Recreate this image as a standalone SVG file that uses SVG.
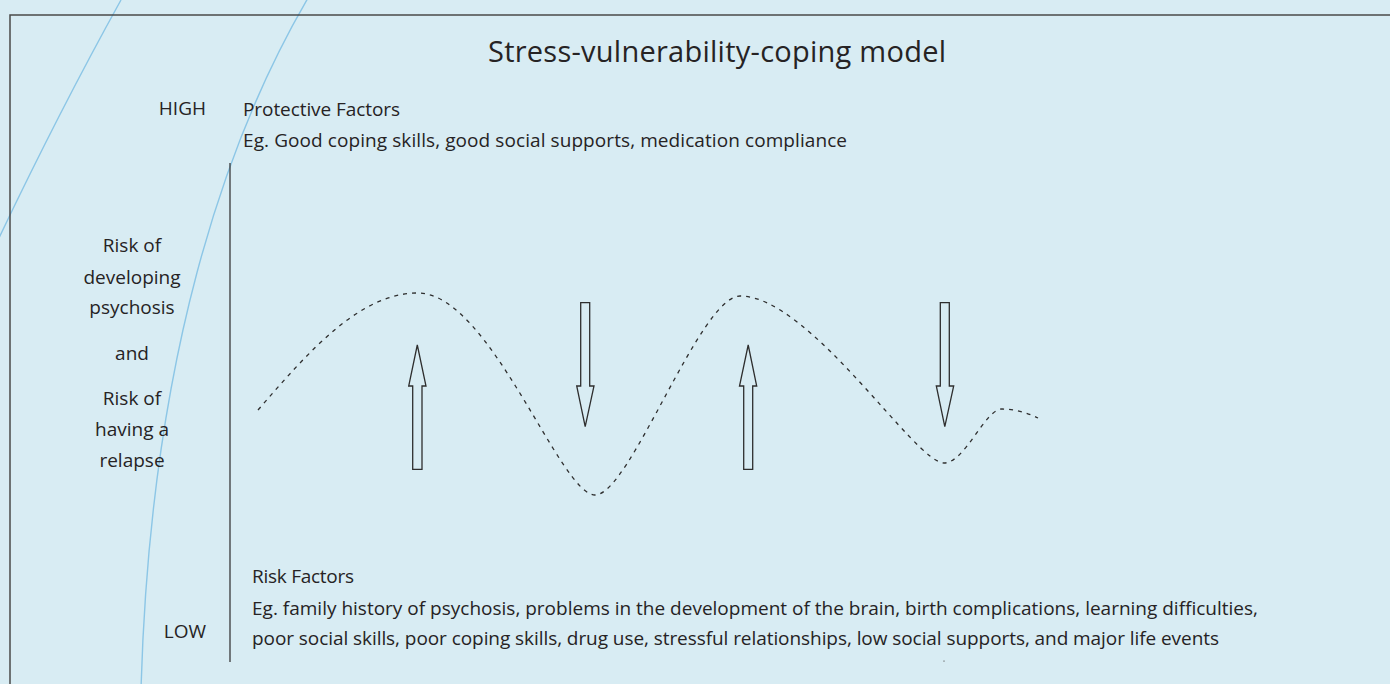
<svg xmlns="http://www.w3.org/2000/svg" width="1390" height="684" viewBox="0 0 1390 684">
  <style>
    .txt { font-family: "Open Sans", "Noto Sans", "Liberation Sans", sans-serif; fill: #262324; }
    .body { font-size: 19px; }
    .title { font-size: 29px; }
    .mid { text-anchor: middle; }
    .end { text-anchor: end; }
    .deco { fill: none; stroke: #8cc6e6; stroke-width: 1.4; }
    .frame { fill: none; stroke: #4a4a4a; stroke-width: 1.5; }
    .axis { fill: none; stroke: #3a3a3a; stroke-width: 1.3; }
    .wave { fill: none; stroke: #2e2e2e; stroke-width: 1.3; stroke-dasharray: 4 5; }
    .arrow { fill: none; stroke: #2e2e2e; stroke-width: 1.3; stroke-linejoin: miter; }
  </style>

  <!-- panel background -->
  <rect x="0" y="0" width="1390" height="684" fill="#d8ecf3"/>

  <!-- decorative sweeping arcs -->
  <g id="backdrop">
    <path class="deco" d="M121,0 Q60,110 -2,240"/>
    <path class="deco" d="M308,-2 C225,140 150,360 141,690"/>
  </g>

  <!-- outer frame and vertical scale -->
  <path class="frame" d="M10,690 V15 H1395"/>
  <g id="scale-axis">
    <line class="axis" x1="230" y1="163" x2="230" y2="662"/>
  </g>

  <!-- title -->
  <g id="title">
    <text class="txt title" x="488" y="62" textLength="458" lengthAdjust="spacing">Stress-vulnerability-coping model</text>
  </g>

  <!-- scale end labels -->
  <g id="label-high">
    <text class="txt body end" x="206" y="115">HIGH</text>
  </g>
  <g id="label-low">
    <text class="txt body end" x="206" y="638">LOW</text>
  </g>

  <!-- vertical axis caption -->
  <g id="axis-caption">
    <text class="txt body mid" x="132" y="252">Risk of</text>
    <text class="txt body mid" x="132" y="284">developing</text>
    <text class="txt body mid" x="132" y="314">psychosis</text>
    <text class="txt body mid" x="132" y="360">and</text>
    <text class="txt body mid" x="132" y="405">Risk of</text>
    <text class="txt body mid" x="132" y="436">having a</text>
    <text class="txt body mid" x="132" y="467">relapse</text>
  </g>

  <!-- protective factors block -->
  <g id="protective-factors">
    <text class="txt body" x="243" y="116" textLength="157" lengthAdjust="spacing">Protective Factors</text>
    <text class="txt body" x="243" y="147" textLength="604" lengthAdjust="spacing">Eg. Good coping skills, good social supports, medication compliance</text>
  </g>

  <!-- risk factors block -->
  <g id="risk-factors">
    <text class="txt body" x="252" y="583" textLength="102" lengthAdjust="spacing">Risk Factors</text>
    <text class="txt body" x="252" y="615" textLength="1006" lengthAdjust="spacing">Eg. family history of psychosis, problems in the development of the brain, birth complications, learning difficulties,</text>
    <text class="txt body" x="252" y="645" textLength="967" lengthAdjust="spacing">poor social skills, poor coping skills, drug use, stressful relationships, low social supports, and major life events</text>
  </g>

  <!-- risk curve and pushing arrows -->
  <g id="connectors">
    <path class="wave" d="M258,410 C310,350 360,293 418,293 C490,293 560,495 595,495 C630,495 700,296 740,296 C810,296 915,463 944,463 C965,463 985,409 1002,409 C1015,409 1028,413 1038,418"/>
    <!-- upward (protective) arrows -->
    <polygon class="arrow" points="417.3,345 426,386 422,386 422,469.3 412.7,469.3 412.7,386 408.7,386"/>
    <polygon class="arrow" points="748.2,345 756.7,386 752.7,386 752.7,469.3 743.7,469.3 743.7,386 739.5,386"/>
    <!-- downward (risk) arrows -->
    <polygon class="arrow" points="580.7,302.7 589.7,302.7 589.7,386 594,386 585.2,426.7 576.7,386 580.7,386"/>
    <polygon class="arrow" points="940.3,302.7 949.3,302.7 949.3,386 953.7,386 944.8,426.7 936.3,386 940.3,386"/>
  </g>

  <!-- small stray mark below the text -->
  <rect x="943.5" y="660.5" width="1" height="1.2" fill="#555"/>
</svg>
